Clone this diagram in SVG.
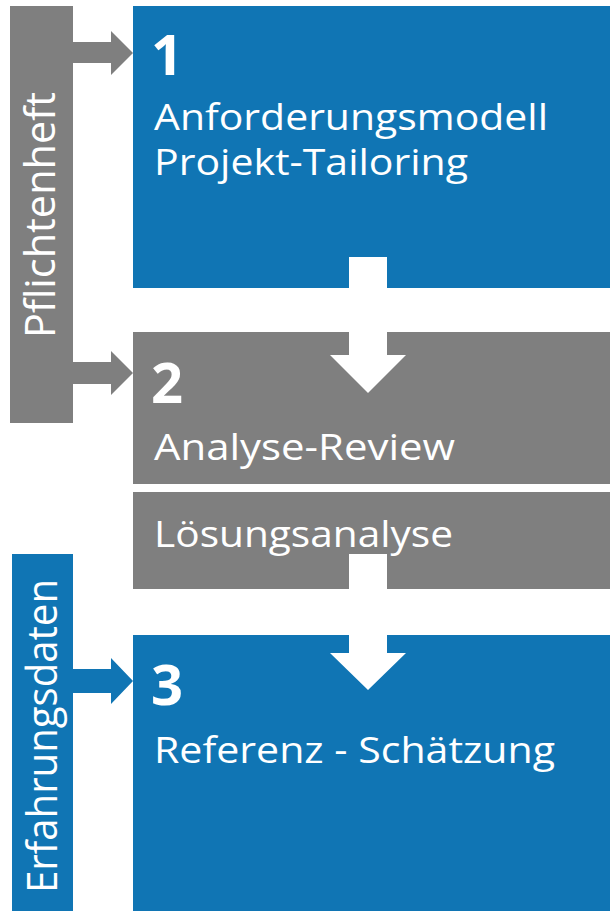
<svg xmlns="http://www.w3.org/2000/svg" width="610" height="912" viewBox="0 0 610 912">
  <style>
    .blue { fill: #1075B4; }
    .gray { fill: #7F7F7F; }
    .white { fill: #FFFFFF; }
    .t { font-family: "Open Sans", "Noto Sans", sans-serif; font-size: 36px; fill: #FFFFFF; }
    .num { font-family: "Open Sans", "Noto Sans", sans-serif; font-size: 56px; font-weight: bold; fill: #FFFFFF; }
    .side { font-family: "Open Sans", "Noto Sans", sans-serif; font-size: 42px; fill: #FFFFFF; }
  </style>
  <rect width="610" height="912" fill="#FFFFFF"/>

  <g id="pflichtenheft">
    <rect class="gray" x="10" y="6" width="63" height="417"/>
    <text class="side" transform="translate(55,338) rotate(-90)" textLength="246" lengthAdjust="spacingAndGlyphs">Pflichtenheft</text>
  </g>

  <g id="erfahrungsdaten">
    <rect class="blue" x="12" y="554" width="61" height="357"/>
    <text class="side" transform="translate(57,893) rotate(-90)" textLength="314" lengthAdjust="spacingAndGlyphs">Erfahrungsdaten</text>
  </g>

  <g id="node1">
    <rect class="blue" x="133" y="6" width="477" height="282"/>
    <text class="num" x="151" y="75">1</text>
    <text class="t" x="154" y="130" textLength="394" lengthAdjust="spacingAndGlyphs">Anforderungsmodell</text>
    <text class="t" x="154" y="175" textLength="314" lengthAdjust="spacingAndGlyphs">Projekt-Tailoring</text>
  </g>

  <g id="node2">
    <rect class="gray" x="133" y="332" width="477" height="152"/>
    <text class="num" x="151" y="403">2</text>
    <text class="t" x="154" y="460" textLength="301" lengthAdjust="spacingAndGlyphs">Analyse-Review</text>
  </g>

  <g id="loesungsanalyse">
    <rect class="gray" x="133" y="492" width="477" height="97"/>
    <text class="t" x="154" y="547" textLength="299" lengthAdjust="spacingAndGlyphs">Lösungsanalyse</text>
  </g>

  <g id="node3">
    <rect class="blue" x="133" y="635" width="477" height="276"/>
    <text class="num" x="151" y="705">3</text>
    <text class="t" x="154" y="763" textLength="401" lengthAdjust="spacingAndGlyphs">Referenz - Schätzung</text>
  </g>

  <g id="connectors">
    <polygon class="gray" points="73,42 111,42 111,31 133,53 111,75 111,63 73,63"/>
    <polygon class="gray" points="73,362 111,362 111,351 133,373 111,395 111,384 73,384"/>
    <polygon class="blue" points="73,669 111,669 111,658 133,681 111,704 111,693 73,693"/>
    <polygon class="white" points="349,257 387,257 387,355 406,355 368,393 330,355 349,355"/>
    <polygon class="white" points="349,554 387,554 387,653 406,653 368,690 330,653 349,653"/>
  </g>
</svg>
